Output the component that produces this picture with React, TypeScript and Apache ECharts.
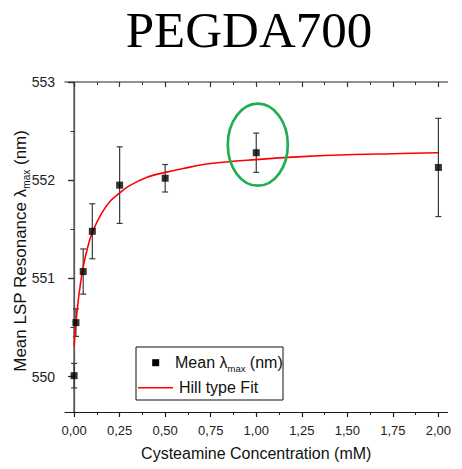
import React, { useEffect, useRef } from "react";
import * as echarts from "echarts";

// Measured data (Cysteamine concentration in mM)
const concentrations = [0, 0.01, 0.05, 0.1, 0.25, 0.5, 1.0, 2.0];
const meanLambda = [550.01, 550.55, 551.07, 551.48, 551.95, 552.02, 552.28, 552.13];
const errLambda = [0.125, 0.14, 0.23, 0.28, 0.39, 0.14, 0.2, 0.5];

// Hill type fit curve
const fitX = [0, 0.005, 0.01, 0.02, 0.03, 0.05, 0.075, 0.1, 0.15, 0.2, 0.25, 0.3, 0.4, 0.5, 0.6, 0.75, 1.0, 1.25, 1.5, 1.75, 2.0];
const fitY = [550.31, 550.435, 550.545, 550.73, 550.88, 551.12, 551.32, 551.47, 551.66, 551.79, 551.87, 551.94, 552.03, 552.08, 552.12, 552.17, 552.21, 552.24, 552.26, 552.27, 552.28];

// Tick values
const xMajorTicks = [0, 0.25, 0.5, 0.75, 1.0, 1.25, 1.5, 1.75, 2.0];
const xMinorTicks = [0.125, 0.375, 0.625, 0.875, 1.125, 1.375, 1.625, 1.875];
const yMajorTicks = [550, 551, 552, 553];
const yMinorTicks = [550.5, 551.5, 552.5];

const SANS = "'Liberation Sans', Arial, Helvetica, sans-serif";

export default function App() {
  const ref = useRef<HTMLDivElement>(null);

  useEffect(() => {
    if (!ref.current) return;
    const chart = echarts.init(ref.current, undefined, { renderer: "svg" });

    const X_MIN = -0.05;
    const X_MAX = 2.05;
    const Y_MIN = 549.64;
    const Y_MAX = 553;

    const darkAxis = "#1a1a1a";
    const greyAxis = "#6e6e6e";

    const baseX = {
      type: "value",
      min: X_MIN,
      max: X_MAX,
      splitLine: { show: false },
    };
    const baseY = {
      type: "value",
      min: Y_MIN,
      max: Y_MAX,
      splitLine: { show: false },
    };

    const errData = concentrations.map((x, i) => [x, meanLambda[i] - errLambda[i], meanLambda[i] + errLambda[i]]);
    const meanData = concentrations.map((x, i) => [x, meanLambda[i]]);
    const fitData = fitX.map((x, i) => [x, fitY[i]]);

    const option: any = {
      animation: false,
      backgroundColor: "#ffffff",
      grid: { left: 65, right: 14.5, top: 82, bottom: 57, containLabel: false },
      xAxis: [
        {
          ...baseX,
          position: "bottom",
          axisLine: { show: true, lineStyle: { color: darkAxis, width: 1.2 } },
          axisTick: { show: true, inside: false, length: 5, customValues: xMajorTicks, lineStyle: { color: darkAxis, width: 1.2 } },
          axisLabel: {
            show: true,
            customValues: xMajorTicks,
            formatter: (v: number) => v.toFixed(2).replace(".", ","),
            fontSize: 13,
            fontFamily: SANS,
            color: "#222",
            margin: 12,
          },
          name: "Cysteamine Concentration (mM)",
          nameLocation: "middle",
          nameGap: 33,
          nameTextStyle: { fontSize: 16, fontFamily: SANS, color: "#111" },
        },
        {
          ...baseX,
          position: "bottom",
          axisLine: { show: false },
          axisTick: { show: true, inside: false, length: 3, customValues: xMinorTicks, lineStyle: { color: darkAxis, width: 1 } },
          axisLabel: { show: false },
        },
        {
          ...baseX,
          position: "top",
          axisLine: { show: true, lineStyle: { color: greyAxis, width: 1.5 } },
          axisTick: { show: true, inside: true, length: 5, customValues: xMajorTicks, lineStyle: { color: "#333", width: 1.2 } },
          axisLabel: { show: false },
        },
        {
          ...baseX,
          position: "top",
          axisLine: { show: false },
          axisTick: { show: true, inside: true, length: 3, customValues: xMinorTicks, lineStyle: { color: "#333", width: 1 } },
          axisLabel: { show: false },
        },
      ],
      yAxis: [
        {
          ...baseY,
          position: "left",
          axisLine: { show: true, lineStyle: { color: darkAxis, width: 1.2 } },
          axisTick: { show: true, inside: false, length: 6, customValues: yMajorTicks, lineStyle: { color: darkAxis, width: 1.2 } },
          axisLabel: {
            show: true,
            customValues: yMajorTicks,
            fontSize: 14,
            fontFamily: SANS,
            color: "#222",
            margin: 10,
          },
        },
        {
          ...baseY,
          position: "left",
          axisLine: { show: false },
          axisTick: { show: true, inside: false, length: 3.5, customValues: yMinorTicks, lineStyle: { color: darkAxis, width: 1 } },
          axisLabel: { show: false },
        },
        {
          ...baseY,
          position: "right",
          axisLine: { show: true, lineStyle: { color: greyAxis, width: 1.5 } },
          axisTick: { show: true, inside: true, length: 5, customValues: yMajorTicks, lineStyle: { color: "#333", width: 1.2 } },
          axisLabel: { show: false },
        },
        {
          ...baseY,
          position: "right",
          axisLine: { show: false },
          axisTick: { show: true, inside: true, length: 3, customValues: yMinorTicks, lineStyle: { color: "#333", width: 1 } },
          axisLabel: { show: false },
        },
      ],
      series: [
        {
          type: "custom",
          name: "error",
          xAxisIndex: 0,
          yAxisIndex: 0,
          encode: { x: 0, y: [1, 2] },
          data: errData,
          z: 2,
          renderItem: (params: any, api: any) => {
            const x = api.value(0);
            const lo = api.coord([x, api.value(1)]);
            const hi = api.coord([x, api.value(2)]);
            const cap = 3;
            const style = { stroke: "#3a3a3a", lineWidth: 1.2 };
            return {
              type: "group",
              children: [
                { type: "line", shape: { x1: lo[0], y1: lo[1], x2: hi[0], y2: hi[1] }, style },
                { type: "line", shape: { x1: hi[0] - cap, y1: hi[1], x2: hi[0] + cap, y2: hi[1] }, style },
                { type: "line", shape: { x1: lo[0] - cap, y1: lo[1], x2: lo[0] + cap, y2: lo[1] }, style },
              ],
            };
          },
        },
        {
          type: "line",
          name: "Hill type Fit",
          xAxisIndex: 0,
          yAxisIndex: 0,
          data: fitData,
          smooth: 0.35,
          showSymbol: false,
          symbol: "none",
          lineStyle: { color: "#ff0000", width: 1.6 },
          z: 3,
        },
        {
          type: "scatter",
          name: "Mean",
          xAxisIndex: 0,
          yAxisIndex: 0,
          data: meanData,
          symbol: "rect",
          symbolSize: 7,
          itemStyle: { color: "#000000" },
          z: 4,
        },
      ],
      graphic: [
        {
          type: "text",
          x: 249,
          y: 30,
          style: {
            text: "PEGDA700",
            font: "51px 'Liberation Serif', 'Times New Roman', serif",
            fill: "#000",
            align: "center",
            verticalAlign: "middle",
          },
        },
        {
          type: "text",
          x: 20,
          y: 251,
          rotation: Math.PI / 2,
          style: {
            text: "{m|Mean LSP Resonance λ}{s|max}{m| (nm)}",
            align: "center",
            verticalAlign: "middle",
            rich: {
              m: { fontSize: 17, fontFamily: SANS, fill: "#111", lineHeight: 22, verticalAlign: "middle" },
              s: { fontSize: 10, fontFamily: SANS, fill: "#111", lineHeight: 10, verticalAlign: "bottom" },
            },
          },
        },
        {
          type: "ellipse",
          shape: { cx: 257.8, cy: 144.7, rx: 30, ry: 41 },
          style: { fill: "none", stroke: "#1fae50", lineWidth: 2.7 },
          z: 10,
        },
        {
          type: "rect",
          shape: { x: 136, y: 347, width: 147, height: 53 },
          style: { fill: "#ffffff", stroke: "#111", lineWidth: 1 },
          z: 10,
        },
        {
          type: "rect",
          shape: { x: 152.2, y: 359.2, width: 7, height: 7 },
          style: { fill: "#000" },
          z: 11,
        },
        {
          type: "text",
          x: 175,
          y: 362.7,
          z: 11,
          style: {
            text: "{m|Mean λ}{s|max}{m| (nm)}",
            align: "left",
            verticalAlign: "middle",
            rich: {
              m: { fontSize: 16, fontFamily: SANS, fill: "#111", lineHeight: 22, verticalAlign: "middle" },
              s: { fontSize: 9.5, fontFamily: SANS, fill: "#111", lineHeight: 10, verticalAlign: "bottom" },
            },
          },
        },
        {
          type: "line",
          shape: { x1: 138, y1: 387.7, x2: 173, y2: 387.7 },
          style: { stroke: "#ff0000", lineWidth: 1.6 },
          z: 11,
        },
        {
          type: "text",
          x: 179,
          y: 387.7,
          z: 11,
          style: {
            text: "Hill type Fit",
            font: `16px ${SANS}`,
            fill: "#111",
            align: "left",
            verticalAlign: "middle",
          },
        },
      ],
    };

    chart.setOption(option);
    return () => chart.dispose();
  }, []);

  return (
    <div
      ref={ref}
      style={{ position: "fixed", left: 0, top: 0, width: 462, height: 469, background: "#fff" }}
    />
  );
}
